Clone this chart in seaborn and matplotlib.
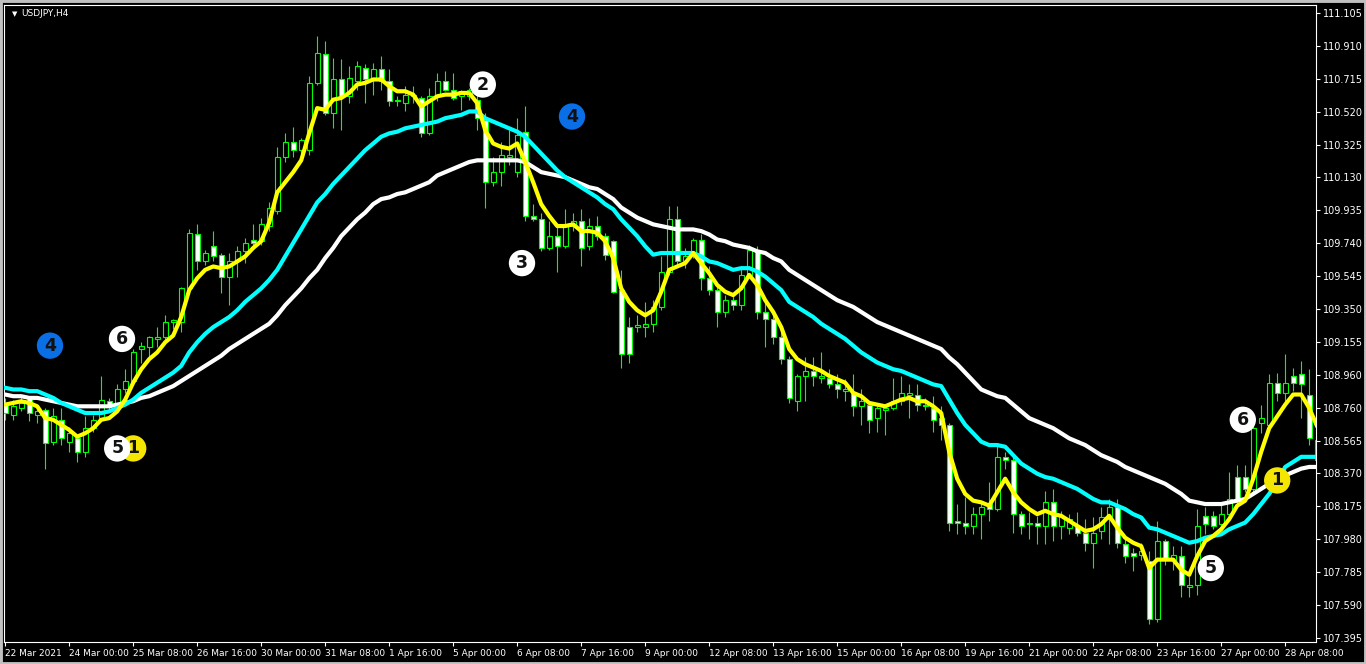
import numpy as np
import pandas as pd
import matplotlib.pyplot as plt
import seaborn as sns
from matplotlib.patches import Rectangle

sns.set_style("dark", {"axes.facecolor": "black", "figure.facecolor": "black"})
plt.rcParams['font.family'] = ['DejaVu Sans']

# USDJPY H4 candles, first bar = 22 Mar 16:00
open_ = [108.79, 108.72, 108.76, 108.82, 108.72, 108.75, 108.56, 108.69, 108.56, 108.58,
         108.50, 108.64, 108.70, 108.80, 108.76, 108.87, 108.92, 109.11, 109.12, 109.17,
         109.18, 109.27, 109.27, 109.47, 109.79, 109.63, 109.72, 109.67, 109.54, 109.63,
         109.69, 109.76, 109.75, 109.84, 109.93, 110.25, 110.34, 110.29, 110.29, 110.69,
         110.86, 110.51, 110.71, 110.61, 110.70, 110.78, 110.71, 110.77, 110.70, 110.58,
         110.57, 110.62, 110.60, 110.39, 110.62, 110.70, 110.65, 110.61, 110.61, 110.59,
         110.47, 110.10, 110.16, 110.25, 110.16, 110.40, 109.90, 109.88, 109.71, 109.78,
         109.72, 109.84, 109.87, 109.72, 109.84, 109.78, 109.75, 109.46, 109.24, 109.24,
         109.24, 109.26, 109.36, 109.57, 109.88, 109.63, 109.68, 109.76, 109.53, 109.46,
         109.33, 109.40, 109.37, 109.55, 109.69, 109.33, 109.29, 109.18, 109.05, 108.80,
         108.95, 108.98, 108.94, 108.94, 108.90, 108.86, 108.85, 108.77, 108.78, 108.70,
         108.75, 108.76, 108.80, 108.84, 108.84, 108.78, 108.76, 108.70, 108.66, 108.09,
         108.08, 108.06, 108.13, 108.19, 108.16, 108.47, 108.45, 108.13, 108.08, 108.08,
         108.06, 108.20, 108.06, 108.05, 108.06, 108.02, 107.96, 108.03, 108.10, 108.17,
         107.95, 107.90, 107.89, 107.85, 107.51, 107.97, 107.86, 107.88, 107.70, 107.71,
         108.12, 108.12, 108.07, 108.13, 108.35, 108.35, 108.28, 108.67, 108.66, 108.91,
         108.85, 108.95, 108.96, 108.84, 108.45]
high = [108.82, 108.81, 108.83, 108.83, 108.78, 108.76, 108.76, 108.76, 108.65, 108.60,
        108.71, 108.72, 108.95, 108.82, 108.90, 108.99, 109.11, 109.15, 109.19, 109.24,
        109.31, 109.29, 109.48, 109.82, 109.85, 109.70, 109.81, 109.68, 109.68, 109.72,
        109.77, 109.85, 109.89, 109.98, 110.31, 110.39, 110.43, 110.36, 110.73, 110.97,
        110.94, 110.84, 110.83, 110.79, 110.82, 110.80, 110.81, 110.85, 110.77, 110.61,
        110.67, 110.67, 110.61, 110.66, 110.75, 110.76, 110.75, 110.65, 110.66, 110.62,
        110.51, 110.25, 110.34, 110.41, 110.48, 110.55, 109.97, 109.92, 109.87, 109.86,
        109.94, 109.92, 109.94, 109.89, 109.90, 109.80, 109.76, 109.58, 109.30, 109.31,
        109.39, 109.40, 109.66, 109.96, 109.96, 109.71, 109.77, 109.79, 109.60, 109.49,
        109.43, 109.43, 109.60, 109.73, 109.72, 109.40, 109.31, 109.21, 109.07, 108.96,
        109.06, 109.06, 109.09, 108.99, 108.96, 108.93, 108.96, 108.87, 108.79, 108.77,
        108.78, 108.94, 108.95, 108.90, 108.90, 108.82, 108.83, 108.77, 108.67, 108.19,
        108.23, 108.17, 108.20, 108.32, 108.54, 108.50, 108.47, 108.15, 108.14, 108.12,
        108.27, 108.28, 108.15, 108.13, 108.14, 108.10, 108.11, 108.17, 108.22, 108.22,
        107.98, 107.93, 107.96, 107.91, 108.09, 107.98, 107.94, 107.94, 107.76, 108.16,
        108.17, 108.15, 108.19, 108.38, 108.42, 108.42, 108.66, 108.78, 108.96, 108.97,
        109.08, 109.00, 109.04, 108.99, 108.62]
low = [108.69, 108.69, 108.74, 108.68, 108.67, 108.40, 108.54, 108.54, 108.50, 108.44,
       108.47, 108.62, 108.69, 108.74, 108.75, 108.85, 108.90, 109.03, 109.05, 109.12,
       109.15, 109.23, 109.21, 109.46, 109.58, 109.61, 109.63, 109.44, 109.37, 109.54,
       109.62, 109.71, 109.73, 109.81, 109.91, 110.22, 110.25, 110.27, 110.26, 110.68,
       110.50, 110.42, 110.41, 110.57, 110.65, 110.57, 110.62, 110.65, 110.55, 110.55,
       110.52, 110.57, 110.37, 110.38, 110.58, 110.64, 110.59, 110.53, 110.59, 110.41,
       109.95, 110.08, 110.08, 110.20, 110.13, 109.87, 109.87, 109.69, 109.70, 109.57,
       109.71, 109.81, 109.60, 109.70, 109.76, 109.64, 109.44, 109.00, 109.03, 109.21,
       109.18, 109.21, 109.34, 109.55, 109.60, 109.59, 109.65, 109.46, 109.43, 109.24,
       109.30, 109.34, 109.34, 109.53, 109.29, 109.12, 109.14, 109.02, 108.79, 108.74,
       108.80, 108.89, 108.91, 108.88, 108.82, 108.80, 108.71, 108.66, 108.61, 108.62,
       108.60, 108.75, 108.78, 108.70, 108.74, 108.75, 108.62, 108.57, 108.03, 108.01,
       108.01, 108.01, 107.98, 108.09, 108.15, 108.40, 108.02, 108.01, 107.98, 107.95,
       107.95, 107.97, 107.98, 108.01, 108.00, 107.91, 107.81, 107.98, 107.95, 107.93,
       107.84, 107.79, 107.86, 107.48, 107.49, 107.83, 107.80, 107.64, 107.64, 107.65,
       108.01, 108.04, 108.04, 108.10, 108.19, 108.26, 108.25, 108.61, 108.64, 108.80,
       108.79, 108.86, 108.70, 108.54, 108.44]
close = [108.73, 108.77, 108.79, 108.73, 108.74, 108.55, 108.71, 108.58, 108.61, 108.50,
         108.64, 108.69, 108.81, 108.77, 108.87, 108.92, 109.09, 109.13, 109.18, 109.18,
         109.27, 109.28, 109.47, 109.80, 109.63, 109.68, 109.66, 109.54, 109.63, 109.69,
         109.74, 109.74, 109.85, 109.95, 110.25, 110.34, 110.29, 110.35, 110.69, 110.87,
         110.51, 110.71, 110.61, 110.72, 110.79, 110.71, 110.77, 110.70, 110.58, 110.59,
         110.62, 110.61, 110.39, 110.61, 110.70, 110.65, 110.60, 110.64, 110.65, 110.48,
         110.10, 110.16, 110.26, 110.26, 110.38, 109.90, 109.88, 109.71, 109.78, 109.72,
         109.85, 109.87, 109.71, 109.84, 109.78, 109.67, 109.45, 109.08, 109.08, 109.25,
         109.26, 109.36, 109.57, 109.88, 109.63, 109.66, 109.76, 109.53, 109.46, 109.33,
         109.40, 109.37, 109.55, 109.70, 109.33, 109.29, 109.18, 109.05, 108.82, 108.95,
         108.98, 108.95, 108.95, 108.90, 108.87, 108.87, 108.77, 108.80, 108.69, 108.76,
         108.76, 108.80, 108.85, 108.85, 108.78, 108.77, 108.69, 108.66, 108.08, 108.08,
         108.06, 108.13, 108.17, 108.16, 108.47, 108.45, 108.13, 108.06, 108.07, 108.06,
         108.20, 108.06, 108.12, 108.10, 108.02, 107.96, 108.02, 108.11, 108.17, 107.96,
         107.88, 107.88, 107.91, 107.51, 107.97, 107.87, 107.89, 107.71, 107.71, 108.06,
         108.07, 108.06, 108.13, 108.22, 108.22, 108.28, 108.64, 108.70, 108.91, 108.85,
         108.91, 108.91, 108.90, 108.58, 108.57]

# moving averages (yellow / aqua / white)
ma_fast = [108.78, 108.79, 108.80, 108.79, 108.77, 108.70, 108.69, 108.66, 108.63, 108.59,
           108.61, 108.64, 108.69, 108.70, 108.74, 108.81, 108.91, 108.99, 109.05, 109.09,
           109.15, 109.19, 109.30, 109.46, 109.53, 109.58, 109.60, 109.59, 109.60, 109.63,
           109.66, 109.71, 109.75, 109.86, 110.04, 110.10, 110.16, 110.23, 110.39, 110.54,
           110.53, 110.59, 110.60, 110.63, 110.68, 110.69, 110.71, 110.71, 110.67, 110.64,
           110.64, 110.62, 110.55, 110.58, 110.61, 110.62, 110.62, 110.63, 110.63, 110.57,
           110.41, 110.33, 110.31, 110.30, 110.33, 110.22, 110.10, 109.97, 109.90, 109.84,
           109.84, 109.85, 109.81, 109.81, 109.80, 109.75, 109.65, 109.47, 109.39, 109.34,
           109.31, 109.34, 109.45, 109.58, 109.60, 109.62, 109.68, 109.62, 109.56, 109.49,
           109.45, 109.43, 109.47, 109.55, 109.49, 109.40, 109.33, 109.24, 109.11, 109.05,
           109.02, 109.00, 108.98, 108.95, 108.93, 108.91, 108.85, 108.83, 108.79, 108.78,
           108.77, 108.79, 108.81, 108.82, 108.80, 108.80, 108.77, 108.73, 108.50, 108.34,
           108.25, 108.21, 108.20, 108.18, 108.26, 108.34, 108.26, 108.20, 108.16, 108.13,
           108.15, 108.13, 108.12, 108.09, 108.06, 108.03, 108.04, 108.07, 108.12, 108.05,
           107.99, 107.96, 107.94, 107.81, 107.86, 107.86, 107.86, 107.80, 107.77, 107.88,
           107.97, 108.00, 108.04, 108.10, 108.18, 108.21, 108.34, 108.50, 108.64, 108.71,
           108.78, 108.84, 108.84, 108.76, 108.65]
ma_mid = [108.88, 108.87, 108.87, 108.86, 108.86, 108.84, 108.82, 108.79, 108.77, 108.75,
          108.73, 108.73, 108.73, 108.74, 108.76, 108.78, 108.81, 108.85, 108.88, 108.91,
          108.94, 108.97, 109.01, 109.09, 109.15, 109.20, 109.24, 109.27, 109.30, 109.34,
          109.39, 109.43, 109.47, 109.52, 109.58, 109.66, 109.74, 109.82, 109.90, 109.98,
          110.03, 110.09, 110.14, 110.19, 110.24, 110.29, 110.33, 110.37, 110.39, 110.40,
          110.42, 110.43, 110.44, 110.45, 110.46, 110.48, 110.49, 110.50, 110.52, 110.52,
          110.48, 110.46, 110.44, 110.42, 110.40, 110.37, 110.32, 110.27, 110.22, 110.17,
          110.13, 110.10, 110.07, 110.04, 110.01, 109.97, 109.94, 109.88, 109.83, 109.78,
          109.72, 109.67, 109.68, 109.68, 109.68, 109.68, 109.68, 109.66, 109.63, 109.62,
          109.60, 109.58, 109.59, 109.59, 109.57, 109.54, 109.50, 109.46, 109.39, 109.36,
          109.33, 109.30, 109.26, 109.23, 109.20, 109.17, 109.13, 109.09, 109.06, 109.03,
          109.01, 108.99, 108.98, 108.96, 108.94, 108.92, 108.90, 108.89, 108.81, 108.73,
          108.66, 108.61, 108.56, 108.54, 108.54, 108.53, 108.48, 108.43, 108.40, 108.37,
          108.35, 108.34, 108.32, 108.30, 108.28, 108.25, 108.22, 108.20, 108.20, 108.18,
          108.16, 108.13, 108.11, 108.05, 108.04, 108.02, 108.00, 107.98, 107.96, 107.97,
          107.99, 108.00, 108.01, 108.04, 108.06, 108.08, 108.13, 108.19, 108.25, 108.32,
          108.41, 108.44, 108.47, 108.47, 108.47]
ma_slow = [108.84, 108.83, 108.83, 108.82, 108.82, 108.81, 108.80, 108.79, 108.78, 108.77,
           108.77, 108.77, 108.77, 108.77, 108.78, 108.79, 108.80, 108.82, 108.83, 108.85,
           108.87, 108.89, 108.92, 108.95, 108.98, 109.01, 109.04, 109.07, 109.11, 109.14,
           109.17, 109.20, 109.23, 109.26, 109.31, 109.37, 109.42, 109.47, 109.53, 109.58,
           109.65, 109.71, 109.78, 109.83, 109.88, 109.92, 109.97, 110.00, 110.01, 110.03,
           110.04, 110.06, 110.08, 110.10, 110.14, 110.16, 110.18, 110.20, 110.22, 110.23,
           110.23, 110.23, 110.23, 110.23, 110.23, 110.22, 110.19, 110.16, 110.15, 110.14,
           110.13, 110.11, 110.09, 110.07, 110.06, 110.03, 110.00, 109.95, 109.92, 109.89,
           109.87, 109.85, 109.84, 109.83, 109.82, 109.82, 109.82, 109.81, 109.79, 109.76,
           109.75, 109.73, 109.72, 109.71, 109.69, 109.68, 109.65, 109.63, 109.58, 109.55,
           109.52, 109.49, 109.46, 109.43, 109.40, 109.38, 109.36, 109.33, 109.30, 109.27,
           109.25, 109.23, 109.21, 109.19, 109.17, 109.15, 109.13, 109.11, 109.06, 109.02,
           108.97, 108.92, 108.87, 108.85, 108.83, 108.82, 108.78, 108.74, 108.70, 108.68,
           108.66, 108.64, 108.61, 108.58, 108.56, 108.54, 108.51, 108.48, 108.46, 108.44,
           108.41, 108.39, 108.37, 108.35, 108.33, 108.31, 108.28, 108.25, 108.21, 108.20,
           108.19, 108.19, 108.19, 108.20, 108.21, 108.22, 108.25, 108.28, 108.31, 108.34,
           108.36, 108.38, 108.40, 108.41, 108.41]

time_labels = ["22 Mar 2021", "24 Mar 00:00", "25 Mar 08:00", "26 Mar 16:00", "30 Mar 00:00",
               "31 Mar 08:00", "1 Apr 16:00", "5 Apr 00:00", "6 Apr 08:00", "7 Apr 16:00",
               "9 Apr 00:00", "12 Apr 08:00", "13 Apr 16:00", "15 Apr 00:00", "16 Apr 08:00",
               "19 Apr 16:00", "21 Apr 00:00", "22 Apr 08:00", "23 Apr 16:00", "27 Apr 00:00",
               "28 Apr 08:00"]
price_labels = ["111.105", "110.910", "110.715", "110.520", "110.325", "110.130", "109.935",
                "109.740", "109.545", "109.350", "109.155", "108.960", "108.760", "108.565",
                "108.370", "108.175", "107.980", "107.785", "107.590", "107.395"]

# numbered markers drawn on the chart
mark_text = ["4", "6", "1", "5", "2", "3", "4", "6", "1", "5"]
mark_bar = [5.6, 14.6, 16.0, 14.0, 59.7, 64.6, 70.85, 154.7, 159.0, 150.7]
mark_price = [109.13, 109.17, 108.52, 108.52, 110.68, 109.62, 110.49, 108.69, 108.33, 107.81]
mark_kind = ["blue", "white", "yellow", "white", "white", "white", "blue", "white", "yellow", "white"]
mark_colors = {"blue": "#0a6fe6", "white": "#ffffff", "yellow": "#f4e600"}

df = pd.DataFrame({"open": open_, "high": high, "low": low, "close": close,
                   "fast": ma_fast, "mid": ma_mid, "slow": ma_slow})
df["bar"] = np.arange(len(df))

W, H = 1366, 664
fig = plt.figure(figsize=(W / 100, H / 100), dpi=100)
ax = fig.add_axes([4 / W, 22 / H, 1312 / W, 637 / H])
ax.set_facecolor("black")

# candles
up = df["close"] >= df["open"]
ax.vlines(df["bar"], df["low"], df["high"], color="#00ff00", lw=0.8, zorder=2)
body_lo = df[["open", "close"]].min(axis=1)
body_h = (df["close"] - df["open"]).abs()
ax.bar(df["bar"], body_h, bottom=body_lo, width=0.62,
       color=np.where(up, "black", "white"), edgecolor="#00ff00", linewidth=0.8, zorder=3)

# moving averages
sns.lineplot(data=df, x="bar", y="slow", color="white", linewidth=3, ax=ax, zorder=4, estimator=None)
sns.lineplot(data=df, x="bar", y="mid", color="#00ffff", linewidth=3, ax=ax, zorder=5, estimator=None)
sns.lineplot(data=df, x="bar", y="fast", color="#ffff00", linewidth=3, ax=ax, zorder=6, estimator=None)

for i, (t, bx, py, k) in enumerate(zip(mark_text, mark_bar, mark_price, mark_kind)):
    ax.scatter(bx, py, s=360, color=mark_colors[k], edgecolor="none", zorder=7 + 2 * i)
    ax.text(bx, py, t, ha="center", va="center", fontsize=12.5, fontweight="bold",
            color="#111111", zorder=8 + 2 * i)

ax.set_xlim(-0.15, 163.85)
ax.set_ylim(107.371, 111.152)
ax.set_xlabel("")
ax.set_ylabel("")
ax.grid(False)

ax.set_xticks(np.arange(0, 161, 8))
ax.set_xticklabels(time_labels, ha="left")
ax.set_yticks(np.linspace(111.105, 107.395, 20))
ax.set_yticklabels(price_labels)
ax.yaxis.tick_right()
ax.tick_params(axis="both", colors="white", labelsize=6.5, length=3, width=0.8,
               direction="out", pad=2)
ax.tick_params(axis="x", bottom=True, labelbottom=True)
ax.tick_params(axis="y", left=False, labelleft=False, right=True, labelright=True, labelsize=7)
for s in ax.spines.values():
    s.set_visible(True)
    s.set_color("white")
    s.set_linewidth(0.8)

fig.text(12 / W, 1 - 14 / H, "\u25bc", color="white", fontsize=5, va="center", ha="left")
fig.text(21 / W, 1 - 14 / H, "USDJPY,H4", color="white", fontsize=6.5, va="center", ha="left")

fig.add_artist(Rectangle((0, 0), 1, 1, transform=fig.transFigure, fill=False,
                         ec="#c0c0c0", lw=3.5, zorder=20))

fig.savefig("out.png", dpi=100, facecolor="black")
